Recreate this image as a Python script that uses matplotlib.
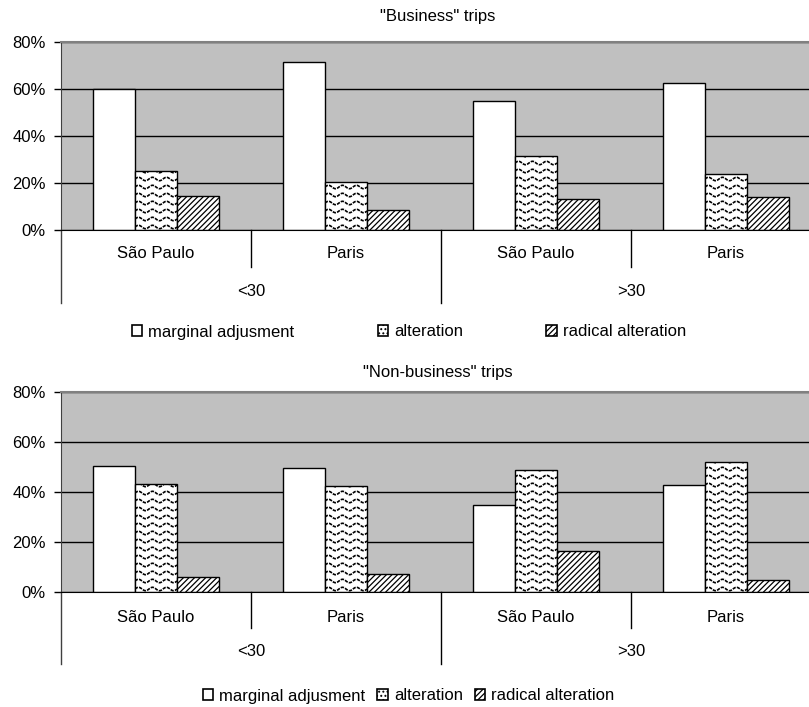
import numpy as np
import matplotlib
matplotlib.use("Agg")
import matplotlib.pyplot as plt
import matplotlib.transforms as mtransforms
from matplotlib.patches import Patch

plt.rcParams['font.family'] = ['Liberation Sans', 'DejaVu Sans']
plt.rcParams['hatch.linewidth'] = 0.9

cities = ['São Paulo', 'Paris', 'São Paulo', 'Paris']
ages = ['<30', '>30']
series_names = ['marginal adjusment', 'alteration', 'radical alteration']
y_ticks = [0, 20, 40, 60, 80]

business_marginal = [60.0, 71.4, 54.8, 62.7]
business_alteration = [25.1, 20.5, 31.5, 23.9]
business_radical = [14.6, 8.7, 13.4, 14.1]

nonbusiness_marginal = [50.4, 49.8, 35.0, 42.7]
nonbusiness_alteration = [43.4, 42.6, 48.8, 52.2]
nonbusiness_radical = [6.0, 7.1, 16.4, 5.0]

W, H = 809, 707
fig = plt.figure(figsize=(W / 100, H / 100), dpi=100)


def axes_px(left, top, right, bottom):
    return fig.add_axes([left / W, 1 - bottom / H, (right - left) / W, (bottom - top) / H])


def wave_fill(ax, bars):
    # wavy texture inside the "alteration" bars, clipped to each bar
    ppx = ax.bbox.width / 4.0
    ppy = ax.bbox.height / 80.0
    row, period, amp = 8.0 / ppy, 14.0 / ppx, 1.7 / ppy
    for bar in bars:
        x0, w, h = bar.get_x(), bar.get_width(), bar.get_height()
        xs = np.linspace(x0, x0 + w, 80)
        yk = 3.0 / ppy
        while yk < h + row:
            line, = ax.plot(xs, yk + amp * np.sin(2 * np.pi * (xs - x0) / period),
                            color='black', lw=1.2, ls=(0, (2.0, 0.7)), zorder=3)
            line.set_clip_path(bar)
            yk += row


def panel(ax, marginal, alteration, radical, title, title_y, leg_x, leg_y, colspace, lab_off, age_off, short, long):
    x = np.arange(len(cities))
    bw = 42 / 190
    ax.set_facecolor('#c0c0c0')
    b1 = ax.bar(x - bw, marginal, bw, color='white', edgecolor='black', lw=1, zorder=2)
    b2 = ax.bar(x, alteration, bw, color='white', edgecolor='black', lw=1, zorder=2)
    b3 = ax.bar(x + bw, radical, bw, color='white', edgecolor='black', lw=1, hatch='//////', zorder=2)
    ax.set_xlim(-0.5, 3.5)
    ax.set_ylim(0, 80)
    wave_fill(ax, b2)

    ax.set_axisbelow(True)
    ax.yaxis.grid(True, color='black', lw=1)
    ax.set_yticks(y_ticks)
    ax.set_yticklabels([f'{v}%' for v in y_ticks])
    ax.set_xticks([])
    ax.tick_params(axis='y', direction='out', length=5, width=1, pad=6, labelsize=12)
    ax.spines['right'].set_visible(False)
    ax.spines['top'].set_color('#808080')
    ax.spines['top'].set_linewidth(1.5)
    ax.spines['bottom'].set_color('black')
    ax.spines['left'].set_color('0.25')

    trans = mtransforms.blended_transform_factory(ax.transData, ax.transAxes)
    hpx = ax.bbox.height
    for xd, depth in [(-0.5, long), (0.5, short), (1.5, long), (2.5, short), (3.5, long)]:
        ax.plot([xd, xd], [0, -depth / hpx], transform=trans, clip_on=False,
                color='0.25' if xd == -0.5 else 'black', lw=1)
    for i, c in enumerate(cities):
        ax.annotate(c, xy=(i, 0), xycoords=trans, xytext=(0, -lab_off), textcoords='offset pixels',
                    ha='center', va='center', fontsize=12)
    for i, a in enumerate(ages):
        ax.annotate(a, xy=(2 * i + 0.5, 0), xycoords=trans, xytext=(0, -age_off), textcoords='offset pixels',
                    ha='center', va='center', fontsize=12)

    fig.text(438 / W, 1 - title_y / H, title, ha='center', va='center', fontsize=12)

    handles = [Patch(facecolor='white', edgecolor='black', lw=1.2),
               Patch(facecolor='white', edgecolor='black', lw=1.2, hatch='....'),
               Patch(facecolor='white', edgecolor='black', lw=1.2, hatch='//////')]
    fig.legend(handles, series_names, loc='center left', bbox_to_anchor=(leg_x / W, 1 - leg_y / H),
               ncol=3, frameon=False, fontsize=12, borderpad=0, borderaxespad=0,
               handlelength=0.62, handleheight=0.62, handletextpad=0.36, columnspacing=colspace)


ax1 = axes_px(61, 42, 821, 230)
panel(ax1, business_marginal, business_alteration, business_radical, '"Business" trips',
      16, 132, 332, 5.0, 24, 61, 37, 73)

ax2 = axes_px(61, 392, 821, 592)
panel(ax2, nonbusiness_marginal, nonbusiness_alteration, nonbusiness_radical, '"Non-business" trips',
      372, 203, 696, 0.72, 25, 60, 36, 72)

fig.savefig('out.png', dpi=100)
